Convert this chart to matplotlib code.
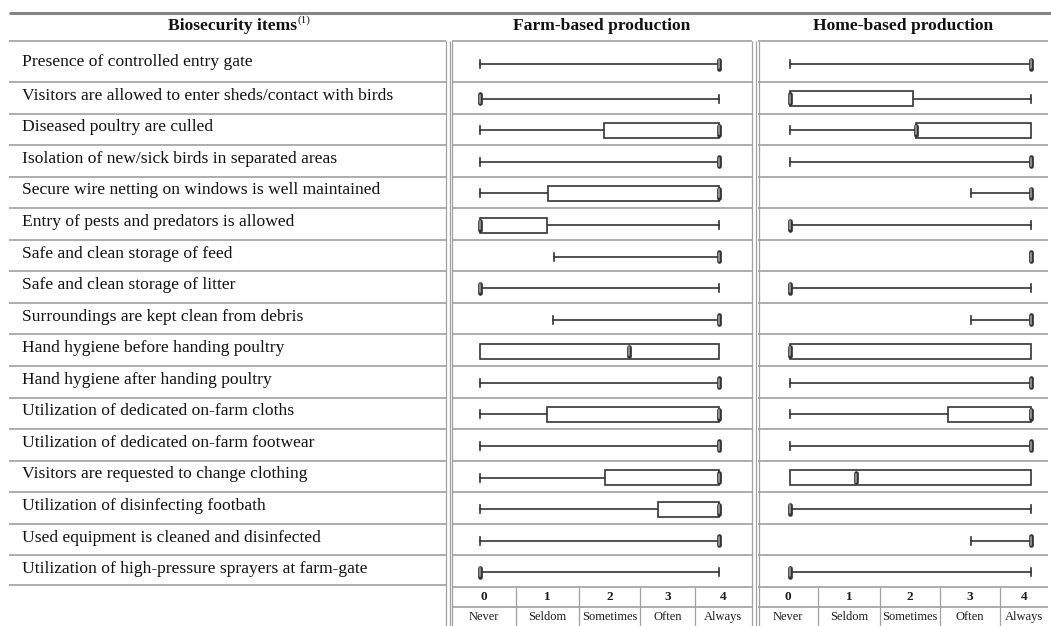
import numpy as np
import matplotlib
matplotlib.use("Agg")
import matplotlib.pyplot as plt
from matplotlib.patches import Rectangle

plt.rcParams["font.family"] = ["Liberation Serif", "DejaVu Serif"]

items = [
    "Presence of controlled entry gate",
    "Visitors are allowed to enter sheds/contact with birds",
    "Diseased poultry are culled",
    "Isolation of new/sick birds in separated areas",
    "Secure wire netting on windows is well maintained",
    "Entry of pests and predators is allowed",
    "Safe and clean storage of feed",
    "Safe and clean storage of litter",
    "Surroundings are kept clean from debris",
    "Hand hygiene before handing poultry",
    "Hand hygiene after handing poultry",
    "Utilization of dedicated on-farm cloths",
    "Utilization of dedicated on-farm footwear",
    "Visitors are requested to change clothing",
    "Utilization of disinfecting footbath",
    "Used equipment is cleaned and disinfected",
    "Utilization of high-pressure sprayers at farm-gate",
]

# five-number summaries per item (0 = never ... 4 = always)
farm_lo  = [0, 0, 0,    0, 0,    0, 1.24, 0, 1.22, 0,   0, 0,    0, 0,   0,    0, 0]
farm_q1  = [4, 0, 2.08, 4, 1.14, 0, 4,    0, 4,    0,   4, 1.12, 4, 2.1, 2.98, 4, 0]
farm_med = [4, 0, 4,    4, 4,    0, 4,    0, 4,    2.5, 4, 4,    4, 4,   4,    4, 0]
farm_q3  = [4, 0, 4,    4, 4, 1.12, 4,    0, 4,    4,   4, 4,    4, 4,   4,    4, 0]
farm_hi  = [4, 4, 4,    4, 4,    4, 4,    4, 4,    4,   4, 4,    4, 4,   4,    4, 4]

home_lo  = [0, 0,    0,    0, 3, 0, 4, 0, 3, 0, 0, 0,    0, 0,   0, 3, 0]
home_q1  = [4, 0,    2.09, 4, 4, 0, 4, 0, 4, 0, 4, 2.62, 4, 0,   0, 4, 0]
home_med = [4, 0,    2.09, 4, 4, 0, 4, 0, 4, 0, 4, 4,    4, 1.1, 0, 4, 0]
home_q3  = [4, 2.04, 4,    4, 4, 0, 4, 0, 4, 4, 4, 4,    4, 4,   0, 4, 0]
home_hi  = [4, 4,    4,    4, 4, 4, 4, 4, 4, 4, 4, 4,    4, 4,   4, 4, 4]

scale_codes = [0, 1, 2, 3, 4]
scale_words = ["Never", "Seldom", "Sometimes", "Often", "Always"]

W, H = 1051, 626
GRID = "#a0a0a0"
INK = "#333333"

fig = plt.figure(figsize=(W / 100, H / 100), dpi=100)
bg = fig.add_axes([0, 0, 1, 1])
bg.set_xlim(0, W)
bg.set_ylim(H, 0)
bg.axis("off")

# table layout in pixels
top_rule, head_bottom, body_bottom, code_bottom = 13, 41, 587, 607
edges = np.concatenate([[head_bottom], 82 + 31.56 * np.arange(17)])
mids = (edges[:-1] + edges[1:]) / 2 + 1
mids[0] = 64
text_y = mids - 3
text_y[0] = 62
left_col = (9, 446)
panels = [(452, 752), (758, 1048)]
zero_four = [(480, 719), (790, 1031)]
cells = [[452, 516, 579, 640, 695, 752], [758, 818, 880, 940, 1000, 1048]]

def hline(y, x0, x1, lw=1.2, color=GRID):
    bg.plot([x0, x1], [y, y], color=color, lw=lw, solid_capstyle="butt")

def vline(x, y0, y1, lw=0.9, color=GRID):
    bg.plot([x, x], [y0, y1], color=color, lw=lw, solid_capstyle="butt")

hline(top_rule, 9, W, lw=2.2, color="#858585")
for y in edges[:-1]:
    hline(y, *left_col)
    for p in panels:
        hline(y, *p)
hline(585, *left_col)
for p in panels:
    hline(body_bottom, *p)
    hline(code_bottom, *p)

vline(446, head_bottom, H)
for x in (449.5, 452, 752, 756, 758.5):
    vline(x, head_bottom, H)
for row in cells:
    for x in row[1:-1]:
        vline(x, body_bottom, H)

# header
t = bg.text(232, 26, "Biosecurity items", ha="center", va="center",
            fontsize=12.6, fontweight="bold", color="#111")
bg.annotate("(1)", xy=(1.01, 0.55), xycoords=t, ha="left", va="bottom",
            fontsize=8, color="#111")
bg.text(sum(panels[0]) / 2, 26, "Farm-based production", ha="center",
        va="center", fontsize=12.6, fontweight="bold", color="#111")
bg.text(sum(panels[1]) / 2, 26, "Home-based production", ha="center",
        va="center", fontsize=12.6, fontweight="bold", color="#111")

for label, y in zip(items, text_y):
    bg.text(22, y, label, ha="left", va="center", fontsize=12.6,
            color="#111")

for row in cells:
    for i in range(5):
        xc = (row[i] + row[i + 1]) / 2
        bg.text(xc, 597, str(scale_codes[i]), ha="center", va="center",
                fontsize=9.5, fontweight="bold", color="#1a1a1a")
        bg.text(xc, 617, scale_words[i], ha="center", va="center",
                fontsize=9, color="#1a1a1a")


def draw_panel(px, zf, lo, q1, med, q3, hi):
    x0, x1 = px
    v0, v4 = zf
    per = (v4 - v0) / 4
    ax = fig.add_axes([x0 / W, (H - body_bottom) / H, (x1 - x0) / W,
                       (body_bottom - head_bottom) / H])
    ax.set_xlim((x0 - v0) / per, (x1 - v0) / per)
    ax.set_ylim(body_bottom, head_bottom)
    ax.axis("off")
    ax.patch.set_alpha(0)
    for i, y in enumerate(mids):
        if q1[i] > lo[i]:
            ax.plot([lo[i], q1[i]], [y, y], color=INK, lw=1.2)
            ax.plot([lo[i], lo[i]], [y - 4, y + 4], color=INK, lw=1.2)
        if hi[i] > q3[i]:
            ax.plot([q3[i], hi[i]], [y, y], color=INK, lw=1.2)
            ax.plot([hi[i], hi[i]], [y - 4, y + 4], color=INK, lw=1.2)
        if q3[i] > q1[i]:
            ax.add_patch(Rectangle((q1[i], y - 7.5), q3[i] - q1[i], 15,
                                   facecolor="white", edgecolor=INK,
                                   lw=1.2, zorder=3))
        m = med[i]
        ax.plot([m, m], [y - 4.5, y + 4.5], color=INK, lw=3.4,
                solid_capstyle="round", zorder=4)
        ax.plot([m, m], [y - 4, y + 4], color="#8e8e8e", lw=1.4,
                solid_capstyle="round", zorder=5)


draw_panel(panels[0], zero_four[0], farm_lo, farm_q1, farm_med, farm_q3, farm_hi)
draw_panel(panels[1], zero_four[1], home_lo, home_q1, home_med, home_q3, home_hi)

fig.savefig("out.png", dpi=100)
